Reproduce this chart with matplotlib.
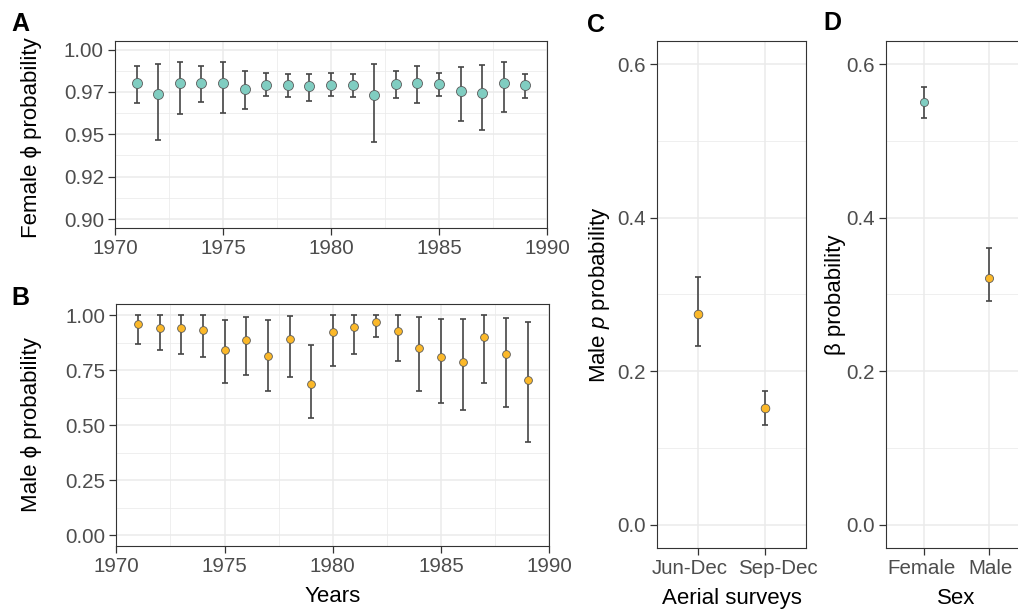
import numpy as np
import matplotlib
matplotlib.use("Agg")
import matplotlib.pyplot as plt
from matplotlib.ticker import FixedLocator
from matplotlib.transforms import ScaledTranslation

plt.rcParams["font.family"] = ["Liberation Sans", "DejaVu Sans"]
plt.rcParams["mathtext.fontset"] = "custom"
plt.rcParams["mathtext.rm"] = "Liberation Sans"
plt.rcParams["mathtext.it"] = "Liberation Sans:italic"

# --- survival by year (posterior mean, 95% CrI) ---
years = np.arange(1971, 1990)

female_phi = [0.980, 0.9736, 0.9803, 0.980, 0.980, 0.977, 0.9793, 0.9789, 0.9783, 0.9793,
              0.9791, 0.9732, 0.9797, 0.9803, 0.9795, 0.9756, 0.9744, 0.9805, 0.9789]
female_lo = [0.9686, 0.9469, 0.9621, 0.9691, 0.9623, 0.9647, 0.9723, 0.9719, 0.9695, 0.9723,
             0.9721, 0.9453, 0.9715, 0.9686, 0.9723, 0.958, 0.9524, 0.9629, 0.9713]
female_hi = [0.9904, 0.9914, 0.9926, 0.990, 0.9926, 0.9875, 0.9861, 0.9854, 0.9857, 0.9863,
             0.9855, 0.9916, 0.9875, 0.9902, 0.9863, 0.9897, 0.9908, 0.9926, 0.9855]

male_phi = [0.961, 0.943, 0.940, 0.934, 0.843, 0.886, 0.815, 0.892, 0.685, 0.922,
            0.946, 0.968, 0.929, 0.849, 0.807, 0.785, 0.901, 0.821, 0.706]
male_lo = [0.870, 0.839, 0.822, 0.810, 0.690, 0.729, 0.655, 0.720, 0.530, 0.767,
           0.822, 0.898, 0.791, 0.655, 0.602, 0.568, 0.691, 0.584, 0.422]
male_hi = [0.999, 0.999, 0.999, 0.999, 0.979, 0.992, 0.979, 0.995, 0.866, 0.999,
           0.999, 0.999, 0.999, 0.992, 0.983, 0.980, 0.999, 0.986, 0.970]

# --- male detection by survey window ---
surveys = ["Jun-Dec", "Sep-Dec"]
male_p = [0.275, 0.1517]
male_p_lo = [0.2325, 0.130]
male_p_hi = [0.322, 0.1746]

# --- beta by sex ---
sexes = ["Female", "Male"]
beta = [0.550, 0.3207]
beta_lo = [0.530, 0.291]
beta_hi = [0.570, 0.361]

TEAL = "#80CDC1"
GOLD = "#FBB829"
BAR = "#454545"
EDGE = "#5a5a5a"
GRID = "#EBEBEB"
FRAME = "#333333"
TICKTXT = "#4D4D4D"
TICK_FS = 14.8
TITLE_FS = 16


def style_axes(ax):
    for s in ax.spines.values():
        s.set_color(FRAME)
        s.set_linewidth(0.8)
    ax.tick_params(colors=FRAME, labelcolor=TICKTXT, labelsize=TICK_FS,
                   length=5, width=0.9, pad=3, which="major")
    ax.tick_params(which="minor", length=0)
    ax.grid(True, which="major", color=GRID, linewidth=1.1)
    ax.grid(True, which="minor", color=GRID, linewidth=0.55)
    ax.set_axisbelow(True)


def draw_points(ax, x, y, lo, hi, color, ms):
    y = np.asarray(y)
    err = [y - np.asarray(lo), np.asarray(hi) - y]
    ax.errorbar(x, y, yerr=err, fmt="none", ecolor=BAR, elinewidth=1.2,
                capsize=1.9, capthick=1.2, zorder=2)
    ax.plot(x, y, "o", ms=ms, mfc=color, mec=EDGE, mew=0.6, zorder=3)


def nudge_xticklabels(ax, shifts_px):
    # push crowded category labels apart horizontally
    for lbl, dx in zip(ax.get_xticklabels(), shifts_px):
        lbl.set_transform(lbl.get_transform() +
                          ScaledTranslation(dx / 100, 0, ax.figure.dpi_scale_trans))


fig = plt.figure(figsize=(10.18, 6.10), dpi=100)

# A: female survival
axA = fig.add_axes([0.1130, 0.6270, 0.4244, 0.3057])
draw_points(axA, years, female_phi, female_lo, female_hi, TEAL, 7.2)
axA.set_xlim(1970, 1990)
axA.set_ylim(0.895, 1.005)
axA.yaxis.set_major_locator(FixedLocator([0.9, 0.925, 0.95, 0.975, 1.0]))
axA.set_yticklabels(["0.90", "0.92", "0.95", "0.97", "1.00"])
axA.yaxis.set_minor_locator(FixedLocator([0.9125, 0.9375, 0.9625, 0.9875]))
axA.xaxis.set_major_locator(FixedLocator([1970, 1975, 1980, 1985, 1990]))
axA.xaxis.set_minor_locator(FixedLocator([1972.5, 1977.5, 1982.5, 1987.5]))
style_axes(axA)
axA.set_ylabel("Female \u03d5 probability", fontsize=TITLE_FS)
axA.yaxis.set_label_coords(-0.169, 0.48)

# B: male survival
axB = fig.add_axes([0.1142, 0.1049, 0.4255, 0.3967])
draw_points(axB, years, male_phi, male_lo, male_hi, GOLD, 5.6)
axB.set_xlim(1970, 1990)
axB.set_ylim(-0.05, 1.05)
axB.yaxis.set_major_locator(FixedLocator([0.0, 0.25, 0.5, 0.75, 1.0]))
axB.set_yticklabels(["0.00", "0.25", "0.50", "0.75", "1.00"])
axB.yaxis.set_minor_locator(FixedLocator([0.125, 0.375, 0.625, 0.875]))
axB.xaxis.set_major_locator(FixedLocator([1970, 1975, 1980, 1985, 1990]))
axB.xaxis.set_minor_locator(FixedLocator([1972.5, 1977.5, 1982.5, 1987.5]))
style_axes(axB)
axB.set_ylabel("Male \u03d5 probability", fontsize=TITLE_FS)
axB.yaxis.set_label_coords(-0.172, 0.5)
axB.set_xlabel("Years", fontsize=TITLE_FS, labelpad=7)

# C: male detection
axC = fig.add_axes([0.6457, 0.1021, 0.1458, 0.8307])
draw_points(axC, np.arange(len(surveys)), male_p, male_p_lo, male_p_hi, GOLD, 6.2)
axC.set_xlim(-0.6, len(surveys) - 0.4)
axC.set_ylim(-0.03, 0.63)
axC.set_xticks(np.arange(len(surveys)))
axC.set_xticklabels(surveys)
axC.yaxis.set_major_locator(FixedLocator([0.0, 0.2, 0.4, 0.6]))
axC.set_yticklabels(["0.0", "0.2", "0.4", "0.6"])
axC.yaxis.set_minor_locator(FixedLocator([0.1, 0.3, 0.5]))
style_axes(axC)
nudge_xticklabels(axC, [-8, 13])
axC.set_ylabel("Male $p$ probability", fontsize=TITLE_FS)
axC.yaxis.set_label_coords(-0.305, 0.5)
axC.set_xlabel("Aerial surveys", fontsize=TITLE_FS, labelpad=7)

# D: beta by sex (panel runs past the right edge)
axD = fig.add_axes([0.8700, 0.1021, 0.1390, 0.8307])
xs = np.arange(len(sexes))
for i, c in enumerate([TEAL, GOLD]):
    draw_points(axD, [xs[i]], [beta[i]], [beta_lo[i]], [beta_hi[i]], c, 5.8)
axD.set_xlim(-0.6, len(sexes) - 0.4)
axD.set_ylim(-0.03, 0.63)
axD.set_xticks(xs)
axD.set_xticklabels(sexes)
axD.yaxis.set_major_locator(FixedLocator([0.0, 0.2, 0.4, 0.6]))
axD.set_yticklabels(["0.0", "0.2", "0.4", "0.6"])
axD.yaxis.set_minor_locator(FixedLocator([0.1, 0.3, 0.5]))
style_axes(axD)
nudge_xticklabels(axD, [-3, 2])
axD.set_ylabel("\u03b2 probability", fontsize=TITLE_FS)
axD.yaxis.set_label_coords(-0.281, 0.5)
axD.set_xlabel("Sex", fontsize=TITLE_FS, labelpad=7)

# panel tags
for tag, px, py in [("A", 11, 24), ("B", 11, 298), ("C", 587, 25), ("D", 823, 23)]:
    fig.text(px / 1018, 1 - py / 610, tag, fontsize=18, fontweight="bold",
             ha="left", va="center")

fig.savefig("out.png", dpi=100)
